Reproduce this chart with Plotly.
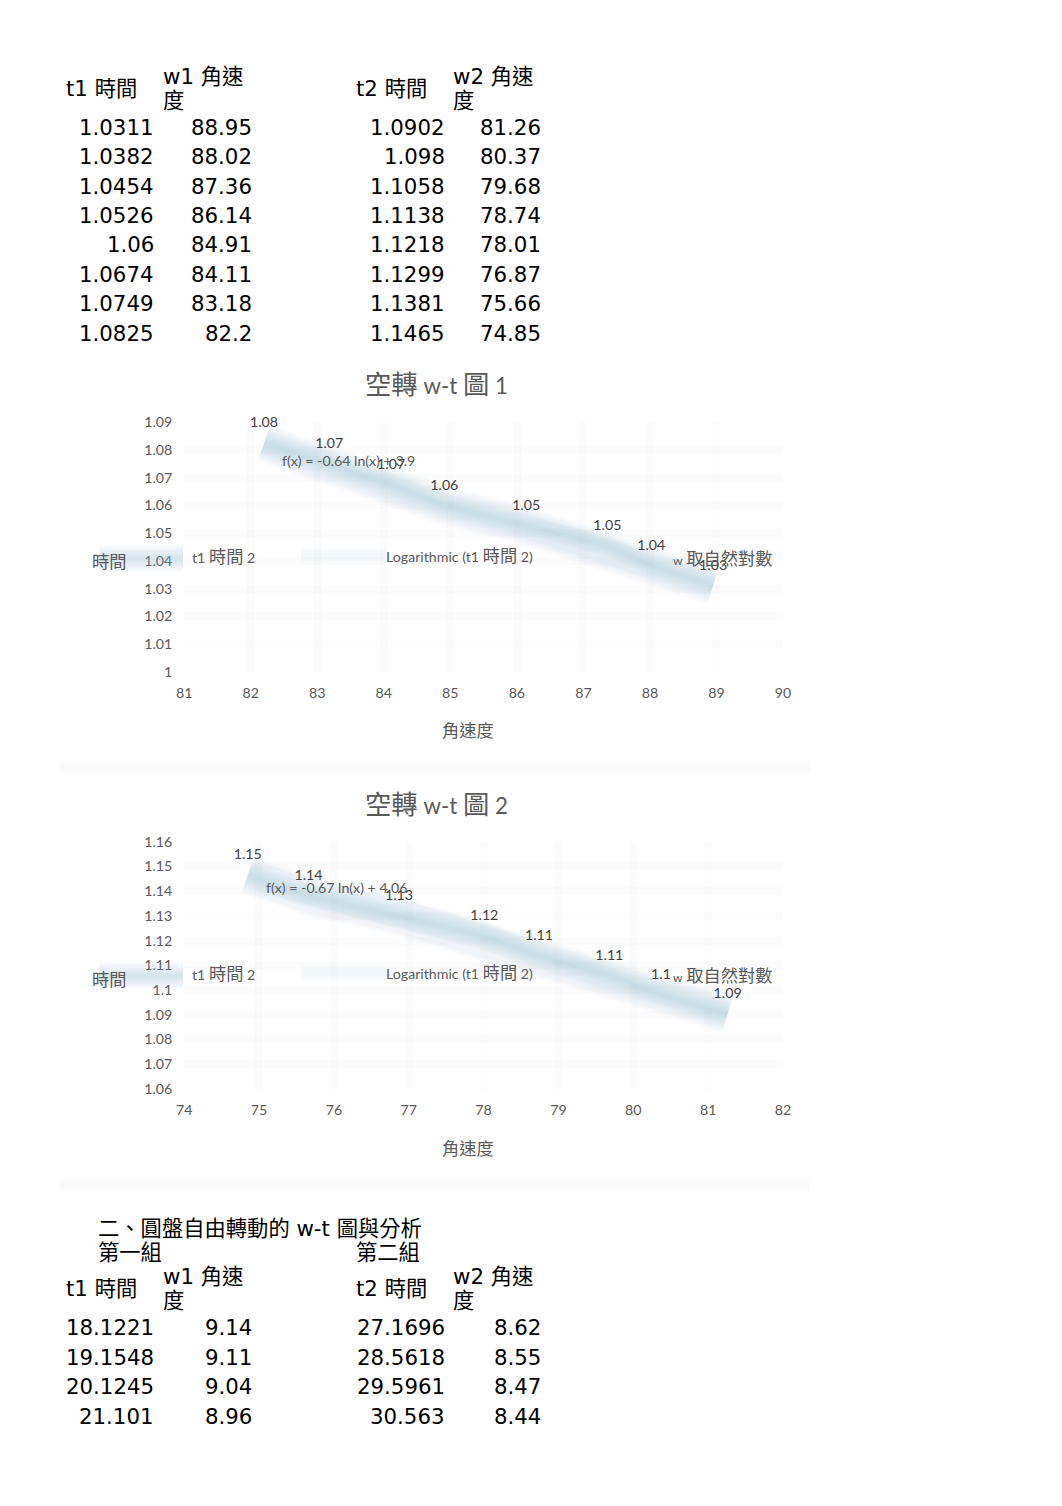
import re
from decimal import Decimal, ROUND_HALF_UP
import plotly.graph_objects as go

# The photographed page maps figure pixels as: picture = S * (M + figure_px)
W, H = 1046, 1490
SX, SY, M = 0.985, 0.988, 16.0
FS = 1 / 0.986  # font-size compensation for the picture scale

# ---------------- data ----------------
# 一、空轉
t1_idle = [1.0311, 1.0382, 1.0454, 1.0526, 1.06, 1.0674, 1.0749, 1.0825]
w1_idle = [88.95, 88.02, 87.36, 86.14, 84.91, 84.11, 83.18, 82.2]
t2_idle = [1.0902, 1.098, 1.1058, 1.1138, 1.1218, 1.1299, 1.1381, 1.1465]
w2_idle = [81.26, 80.37, 79.68, 78.74, 78.01, 76.87, 75.66, 74.85]

# 二、圓盤自由轉動
t1_free = [18.1221, 19.1548, 20.1245, 21.101]
w1_free = [9.14, 9.11, 9.04, 8.96]
t2_free = [27.1696, 28.5618, 29.5961, 30.563]
w2_free = [8.62, 8.55, 8.47, 8.44]

chart_titles = ["空轉 w-t 圖 1", "空轉 w-t 圖 2"]
equations = ["f(x) = -0.64 ln(x) + 3.9", "f(x) = -0.67 ln(x) + 4.06"]
series_name = "t1 時間 2"
trend_name = "Logarithmic (t1 時間 2)"
note_text = "取自然對數"
x_title = "角速度"
y_title = "時間"
x_ranges = [(81, 90), (74, 82)]
y_ranges = [(1.0, 1.09), (1.06, 1.16)]

# ---------------- helpers ----------------
TABLE_FONT = "DejaVu Sans, Noto Sans CJK TC"
CHART_FONT = "Lato, Noto Sans CJK TC"
GRAY = "#595959"

CJK_RE = re.compile(r"[\u3000-\u303f\u4e00-\u9fff\uff00-\uffef]+")


def fs(size):
    return round(size * FS, 2)


def cjk(s, size):
    return CJK_RE.sub(lambda m: f'<span style="font-size:{fs(size)}px">{m.group(0)}</span>', s)


def fmt(v):
    return f"{v:g}"


def lab(v):
    d = Decimal(str(v)).quantize(Decimal("0.01"), rounding=ROUND_HALF_UP)
    return format(d.normalize(), "f")


def fx(x):
    return (x / SX - M) / W


def fy(y):
    return 1 - (y / SY - M) / H


annots = []
shapes = []


def txt(x, y, s, size, color="#000000", family=TABLE_FONT, xanchor="left", yanchor="middle"):
    annots.append(dict(x=fx(x), y=fy(y), xref="paper", yref="paper", text=s,
                       showarrow=False, xanchor=xanchor, yanchor=yanchor, borderpad=0,
                       font=dict(size=fs(size), color=color, family=family)))


def soft_line(x0, x1, y, rgb, alphas, widths):
    for a, w in zip(alphas, widths):
        shapes.append(dict(type="line", xref="paper", yref="paper",
                           x0=fx(x0), x1=fx(x1), y0=fy(y), y1=fy(y),
                           line=dict(color=f"rgba({rgb},{a})", width=w)))


# ---------------- tables ----------------
def table_header(y):
    txt(65, y, "t1 時間", 21)
    txt(162, y - 12, "w1 角速", 21)
    txt(162, y + 12, "度", 21)
    txt(355, y, "t2 時間", 21)
    txt(452, y - 12, "w2 角速", 21)
    txt(452, y + 12, "度", 21)


def table_values(first_row_y, step, cols):
    rights = [155, 253, 446, 542]
    for c, vals in enumerate(cols):
        for i, v in enumerate(vals):
            txt(rights[c], first_row_y + i * step, fmt(v), 21, xanchor="right")


table_header(87)
table_values(126, 29.4, [t1_idle, w1_idle, t2_idle, w2_idle])

txt(97, 1227, "二、圓盤自由轉動的 w-t 圖與分析", 21)
txt(97, 1251, "第一組", 21)
txt(355, 1251, "第二組", 21)
table_header(1287)
table_values(1326, 29.4, [t1_free, w1_free, t2_free, w2_free])

# ---------------- charts ----------------
fig = go.Figure()

chart_boxes = [(421, 670), (840, 1087)]  # (top px, bottom px) of plotting area
x_left, x_right = 184, 783
band_rgb = "140,180,210"
band_widths = [40, 36, 32, 28, 24, 20, 16, 12, 8, 4]
band_alphas = [0.035, 0.045, 0.05, 0.055, 0.06, 0.06, 0.06, 0.06, 0.06, 0.06]

datasets = [(w1_idle, t1_idle), (w2_idle, t2_idle)]

for k, ((xs, ys), (top, bot)) in enumerate(zip(datasets, chart_boxes)):
    xa = "x" if k == 0 else f"x{k + 1}"
    ya = "y" if k == 0 else f"y{k + 1}"
    for a, w in zip(band_alphas, band_widths):
        fig.add_trace(go.Scatter(x=xs, y=ys, mode="lines", xaxis=xa, yaxis=ya,
                                 line=dict(color=f"rgba({band_rgb},{a})", width=w),
                                 hoverinfo="skip", showlegend=False))
    fig.add_trace(go.Scatter(x=xs, y=ys, mode="markers+text", xaxis=xa, yaxis=ya,
                             text=[lab(v) for v in ys], textposition="top center",
                             textfont=dict(family=CHART_FONT, size=fs(14), color="#404040"),
                             marker=dict(size=18, color="rgba(0,0,0,0)"), cliponaxis=False,
                             hoverinfo="skip", showlegend=False))

    xr = x_ranges[k]
    yr = y_ranges[k]
    axis_common = dict(showline=False, zeroline=False, showgrid=True,
                       gridcolor="rgba(0,0,0,0.012)", gridwidth=8,
                       ticks="outside", ticklen=8, tickcolor="rgba(0,0,0,0)",
                       tickfont=dict(family=CHART_FONT, size=fs(14), color=GRAY))
    fig.layout[f"xaxis{'' if k == 0 else k + 1}"] = dict(
        axis_common, domain=[fx(x_left), fx(x_right)], range=[xr[0], xr[1]],
        tick0=xr[0], dtick=1, anchor=ya)
    fig.layout[f"yaxis{'' if k == 0 else k + 1}"] = dict(
        axis_common, domain=[fy(bot), fy(top)],
        range=[yr[0] - 1e-9, yr[1] + 1e-9], tick0=yr[0], dtick=0.01, anchor=xa)

    off = 0 if k == 0 else 419
    # title
    txt(436, 383 + off, cjk(chart_titles[k], 26), 22, GRAY, CHART_FONT, xanchor="center")
    # equation
    txt(348 if k == 0 else 336, 459 if k == 0 else 886, equations[k], 14, GRAY, CHART_FONT,
        xanchor="center")
    # axis titles
    txt(468, 729 + off - (1 if k else 0), cjk(x_title, 17), 14, GRAY, CHART_FONT, xanchor="center")
    txt(109, 560 + off - (1 if k else 0), cjk(y_title, 17), 14, GRAY, CHART_FONT, xanchor="center")
    # legend
    ly = 555 + off - (2 if k else 0)
    soft_line(99, 183, ly + 2, band_rgb, [0.035, 0.05, 0.06, 0.06, 0.06, 0.06, 0.06],
              [28, 24, 20, 16, 12, 8, 4])
    soft_line(301, 385, ly - 1, band_rgb, [0.02, 0.025, 0.03, 0.03], [20, 15, 10, 5])
    txt(191, ly, cjk(series_name, 17), 14, GRAY, CHART_FONT)
    txt(385, ly - 1, cjk(trend_name, 17), 14, GRAY, CHART_FONT)
    txt(672, ly + 2, f'<span style="font-size:{fs(12)}px">w</span> ' + cjk(note_text, 17), 14,
        GRAY, CHART_FONT)
    # faint bottom border of the chart box
    soft_line(60, 810, 765 + off, "0,0,0", [0.008, 0.01], [14, 7])

fig.update_layout(
    width=W, height=H, margin=dict(l=0, r=0, t=0, b=0),
    paper_bgcolor="white", plot_bgcolor="white",
    showlegend=False, annotations=annots, shapes=shapes,
    font=dict(family=CHART_FONT, color=GRAY),
)

fig.write_html("out.html")
